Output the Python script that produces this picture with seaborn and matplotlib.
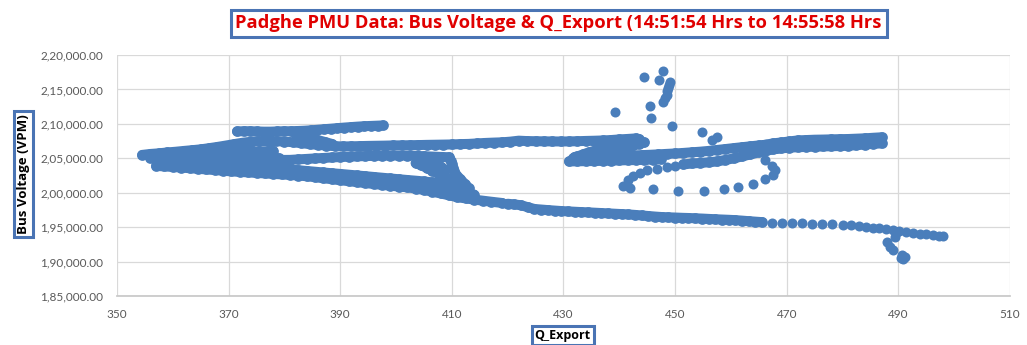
import pandas as pd
import matplotlib
matplotlib.use("Agg")
import matplotlib.pyplot as plt
import seaborn as sns
from matplotlib.ticker import FuncFormatter

# Q_Export (x) and Bus Voltage (y), one trace segment per list pair
top_q = [371.5, 372.7, 373.9, 375.1, 376.3, 377.5, 378.7, 379.9, 381.1, 382.3, 383.5, 384.7,
         385.9, 387.1, 388.3, 389.5, 390.7, 391.9, 393.1, 394.3, 395.5, 396.7, 397.6]
top_v = [208900, 208930, 208930, 208900, 208870, 208870, 208900, 208930, 208930, 208960, 209000, 209060,
         209140, 209220, 209300, 209380, 209460, 209530, 209600, 209660, 209700, 209740, 209770]

topdrop_q = [382.0, 383.3, 384.6, 385.9, 387.2, 388.5]
topdrop_v = [208540, 208250, 207960, 207670, 207380, 207090]

upper_q = [354.5, 356, 357.5, 359, 360.5, 362, 363.5, 365, 366.5, 368, 369.5, 371, 372.5, 374, 375.5,
           377, 378.5, 380, 381.5, 383, 384.5, 386, 387.5, 389, 390.5, 392, 393.5, 395, 396.5, 398,
           399.5, 401, 402.5, 404, 405.5, 407, 408.5, 410, 411.5, 413, 414.5, 416, 417.5, 419, 420.5,
           422, 423.5, 425, 426.5, 428, 429.5, 431, 432.5, 434, 435.5, 437, 438.5, 440, 441.5, 443]
upper_v = [205490, 205630, 205720, 205850, 205950, 206070, 206180, 206300, 206470, 206650, 206850,
           207060, 207260, 207400, 207480, 207500, 207480, 207430, 207330, 207200, 207060, 206950,
           206850, 206760, 206720, 206740, 206770, 206800, 206820, 206840, 206870, 206880, 206900,
           206920, 206950, 206970, 206990, 207010, 207060, 207090, 207160, 207230, 207280, 207320,
           207420, 207560, 207500, 207480, 207460, 207450, 207440, 207450, 207480, 207520, 207550,
           207590, 207650, 207740, 207810, 207890]

mid_q = [356, 357.5, 359, 360.5, 362, 363.5, 365, 366.5, 368, 369.5, 371, 372.5, 374, 375.5, 377, 378]
mid_v = [205050, 205160, 205270, 205380, 205490, 205600, 205680, 205760, 205850, 205880, 205900,
         205930, 205960, 205990, 206030, 206070]

mid2_q = [364, 365.5, 367, 368.5, 370, 371.5, 373, 374.5, 376, 377.5, 379]
mid2_v = [205100, 205150, 205200, 205200, 205220, 205200, 205180, 205200, 205150, 205100, 205000]

wedge_q = [378, 379.5, 381, 382.5, 384, 385.5, 387, 388.5, 390, 391.5, 393, 394.5, 396, 397.5, 399,
           400.5, 402, 403.5, 405, 406.5, 408, 409.5]
wedge_v = [204760, 204760, 204770, 204840, 204910, 204980, 205050, 205120, 205180, 205230, 205280,
           205320, 205350, 205380, 205400, 205400, 205400, 205360, 205300, 205250, 205200, 205150]

low1_q = [357, 358.5, 360, 361.5, 363, 364.5, 366, 367.5, 369, 370.5, 372, 373.5, 375, 376.5, 378,
          379.5, 381, 382.5, 384, 385.5, 387, 388.5, 390, 391.5, 393, 394.5, 396, 397.5, 399, 400.5,
          402, 403.5, 405, 406.5, 408, 409.5, 411]
low1_v = [204690, 204650, 204620, 204580, 204540, 204470, 204400, 204330, 204250, 204180, 204110,
          204040, 203960, 203850, 203740, 203560, 203380, 203270, 203160, 203050, 202940, 202830,
          202730, 202620, 202510, 202400, 202290, 202180, 202070, 201960, 201850, 201750, 201640,
          201500, 201350, 201170, 200980]

lowm_q = [399, 400.5, 402, 403.5, 405, 406.5, 408, 409.5, 411, 412.5, 414]
lowm_v = [201560, 201440, 201320, 201180, 201030, 200800, 200590, 200380, 200180, 199960, 199740]

low2_q = [357, 358.5, 360, 361.5, 363, 364.5, 366, 367.5, 369, 370.5, 372, 373.5, 375, 376.5, 378,
          379.5, 381, 382.5, 384, 385.5, 387, 388.5, 390, 391.5, 393, 394.5, 396, 397.5, 399, 400.5,
          402, 403.5, 405, 406.5, 408, 409.5, 411, 412.5, 414, 415.5, 417, 419]
low2_v = [203890, 203820, 203740, 203650, 203560, 203470, 203380, 203290, 203190, 203100, 203020,
          202950, 202870, 202800, 202730, 202660, 202580, 202490, 202390, 202250, 202100, 201960,
          201810, 201680, 201540, 201400, 201270, 201140, 201010, 200900, 200780, 200600, 200400,
          200150, 199890, 199620, 199340, 199170, 199000, 198850, 198700, 198510]

# the knotted column near Q = 403..413
knot1_q = [403.5, 404.5, 405.5, 406.5, 407.5, 408.5, 409.5, 410.5, 411.5, 412.5]
knot1_v = [204300, 204000, 203600, 203200, 202800, 202400, 202000, 201500, 201000, 200500]
knot2_q = [409.5, 409.8, 410.0, 410.2, 410.4, 410.8, 411.5, 412.3, 413.0]
knot2_v = [205100, 204600, 204100, 203600, 203100, 202600, 202000, 201300, 200700]
knot3_q = [404.0, 405.5, 407.0, 408.0, 408.8]
knot3_v = [205000, 204650, 204300, 203800, 203300]

trail_q = [420, 421.2, 422.4, 423.6, 424.8, 426, 427.2, 428.4, 429.6, 430.8, 432, 433.2, 434.4,
           435.6, 436.8, 438, 439.2, 440.4, 441.6, 442.8, 444, 445.2, 446.4, 447.6, 448.8, 450,
           451.2, 452.4, 453.6, 454.8, 456, 457.2, 458.4, 459.6, 460.8, 462, 463.2, 464.4, 465.6]
trail_v = [198400, 198300, 198180, 197900, 197640, 197560, 197480, 197410, 197340, 197290, 197240,
           197190, 197150, 197100, 197050, 197000, 196950, 196900, 196850, 196780, 196700, 196620,
           196540, 196470, 196430, 196400, 196360, 196330, 196290, 196250, 196200, 196150, 196110,
           196070, 196020, 195950, 195870, 195800, 195730]

tail_q = [467.4, 469.2, 471, 472.8, 474.6, 476.4, 478.2, 480, 481.6, 483, 484.2, 485.4, 486.6,
          487.8, 489, 490.2, 491.4, 492.6, 493.8, 495, 496.2, 497.2, 498]
tail_v = [195650, 195590, 195560, 195530, 195510, 195480, 195460, 195350, 195250, 195130, 195040,
          194940, 194830, 194710, 194600, 194460, 194310, 194160, 194060, 193960, 193850, 193780,
          193720]

hook_q = [487.9, 488.5, 489.1, 490.6, 491.2, 490.9, 489.4, 489.7, 490.4]
hook_v = [192890, 192080, 191680, 190960, 190710, 190330, 193530, 194340, 190500]

zag_q = [443.5, 442.5, 441.5, 440.5, 439.5, 438.5, 437.5, 436.5, 435.5, 434.5, 433.5, 432.5, 431.7]
zag_v = [207810, 207600, 207380, 207160, 206940, 206720, 206500, 206290, 206070, 205850, 205560,
         205270, 204980]
zag2_q = [444.5, 443.5, 442.5, 441.5, 440.5, 439.5, 438.5, 437.5, 436.5]
zag2_v = [207300, 207080, 206860, 206640, 206420, 206200, 205980, 205760, 205540]

right1_q = [432, 433.5, 435, 436.5, 438, 439.5, 441, 442.5, 444, 445.5, 447, 448.5, 450, 451.5, 453,
            454.5, 456, 457.5, 459, 460.5, 462, 463.5, 465, 466.5]
right1_v = [205200, 205220, 205250, 205280, 205300, 205330, 205370, 205420, 205460, 205510, 205570,
            205640, 205700, 205780, 205870, 205960, 206070, 206210, 206340, 206480, 206610, 206740,
            206870, 206980]

right2_q = [431, 432.5, 434, 435.5, 437, 438.5, 440, 441.5, 443, 444.5, 446, 447.5]
right2_v = [204540, 204560, 204580, 204600, 204630, 204660, 204690, 204720, 204740, 204770, 204820,
            204870]

loop_q = [440.7, 441.9, 441.6, 442.5, 443.7, 444.9, 446.7, 448.5, 450.0, 446.0, 450.6, 455.2, 458.7,
          461.3, 464.0, 466.1, 467.6, 467.9, 467.3, 466.1]
loop_v = [201000, 200650, 201850, 202440, 202830, 203310, 203450, 203790, 203890, 200500, 200300,
          200300, 200550, 200880, 201270, 201960, 202580, 203310, 203890, 204760]

rise_q = [451.5, 453, 454.5, 456, 457.5, 459, 460.5, 462, 463.5, 465, 466.5, 468]
rise_v = [204100, 204250, 204320, 204420, 204540, 204760, 204980, 205270, 205560, 205850, 206140,
          206430]

end1_q = [466, 467.5, 469, 470.5, 472, 473.5, 475, 476.5, 478, 479.5, 481, 482.5, 484, 485.5, 487]
end1_v = [206940, 207160, 207300, 207450, 207600, 207650, 207700, 207720, 207750, 207780, 207800,
          207850, 207900, 207980, 208050]
end2_q = [466, 467.5, 469, 470.5, 472, 473.5, 475, 476.5, 478, 479.5, 481, 482.5, 484, 485.5, 487]
end2_v = [206070, 206290, 206430, 206550, 206600, 206650, 206680, 206720, 206750, 206780, 206820,
          206900, 207000, 207100, 207160]

spike_q = [444.4, 447.8, 447.1, 449.1, 448.9, 448.7, 448.6, 448.6, 448.2, 447.8, 445.5, 439.2, 445.7,
           449.5, 454.8, 457.5, 456.6]
spike_v = [216820, 217690, 216380, 216090, 215650, 215220, 214700, 214200, 213700, 213190, 212600,
           211740, 210860, 209700, 208830, 208100, 207670]

# segments whose samples sit so close that the markers merge into a solid band
dense = [(top_q, top_v), (topdrop_q, topdrop_v), (upper_q, upper_v), (mid_q, mid_v),
         (mid2_q, mid2_v), (wedge_q, wedge_v), (low1_q, low1_v), (lowm_q, lowm_v),
         (low2_q, low2_v), (knot1_q, knot1_v), (knot2_q, knot2_v), (knot3_q, knot3_v),
         (trail_q, trail_v), (zag_q, zag_v), (zag2_q, zag2_v), (right1_q, right1_v),
         (right2_q, right2_v), (rise_q, rise_v), (end1_q, end1_v), (end2_q, end2_v)]
loose = [(tail_q, tail_v), (hook_q, hook_v), (loop_q, loop_v), (spike_q, spike_v)]


def to_frame(parts):
    return pd.concat([pd.DataFrame({"Q_Export": q, "Bus Voltage": v, "seg": i})
                      for i, (q, v) in enumerate(parts)], ignore_index=True)


df_dense = to_frame(dense)
df_loose = to_frame(loose)


def indian_fmt(val, pos):
    # 220000 -> 2,20,000.00
    whole, dec = f"{val:.2f}".split(".")
    if len(whole) > 3:
        head, tail = whole[:-3], whole[-3:]
        groups = []
        while len(head) > 2:
            groups.insert(0, head[-2:])
            head = head[:-2]
        if head:
            groups.insert(0, head)
        whole = ",".join(groups + [tail])
    return whole + "." + dec


sns.set_theme(style="whitegrid")
plt.rcParams["font.family"] = ["Lato", "DejaVu Sans"]

fig, ax = plt.subplots(figsize=(10.27, 3.45), dpi=100)
fig.subplots_adjust(left=0.1139, right=0.9834, bottom=0.142, top=0.8406)

blue = "#4A7EBB"
sns.lineplot(data=df_dense, x="Q_Export", y="Bus Voltage", units="seg", estimator=None,
             sort=False, color=blue, linewidth=7.2, solid_capstyle="round",
             solid_joinstyle="round", ax=ax, zorder=3, legend=False)
sns.scatterplot(data=df_dense, x="Q_Export", y="Bus Voltage", color=blue, s=60,
                linewidth=0, ax=ax, zorder=3)
sns.scatterplot(data=df_loose, x="Q_Export", y="Bus Voltage", color=blue, s=52,
                linewidth=0, ax=ax, zorder=3)

ax.set_xlim(350, 510)
ax.set_ylim(185000, 220000)
ax.set_xticks(list(range(350, 511, 20)))
ax.set_yticks(list(range(185000, 220001, 5000)))
ax.yaxis.set_major_formatter(FuncFormatter(indian_fmt))
ax.grid(True, color="#D9D9D9", linewidth=0.9)
for side in ["left", "right", "top"]:
    ax.spines[side].set_visible(False)
ax.spines["bottom"].set_color("#C8C8C8")
ax.tick_params(axis="both", length=0, labelsize=8.5, labelcolor="#595959")
ax.tick_params(axis="x", pad=9)
ax.tick_params(axis="y", pad=10)
ax.set_xlabel("")
ax.set_ylabel("")

box = dict(boxstyle="square,pad=0.25", facecolor="white", edgecolor="#4A74B4", linewidth=2.2)
fig.text(0.544, 0.932, "Padghe PMU Data: Bus Voltage & Q_Export (14:51:54 Hrs to 14:55:58 Hrs",
         ha="center", va="center", fontsize=13.2, fontweight="bold", color="#E00000", bbox=box,
         family=["Open Sans", "DejaVu Sans"])
fig.text(0.0229, 0.4957, "Bus Voltage (VPM)", rotation=90, ha="center", va="center",
         fontsize=9.5, fontweight="bold", color="black", bbox=box,
         family=["Open Sans", "DejaVu Sans"])
fig.text(0.548, 0.027, "Q_Export", ha="center", va="center",
         fontsize=9, fontweight="bold", color="black", bbox=box,
         family=["Open Sans", "DejaVu Sans"])

fig.savefig("out.png", dpi=100)
